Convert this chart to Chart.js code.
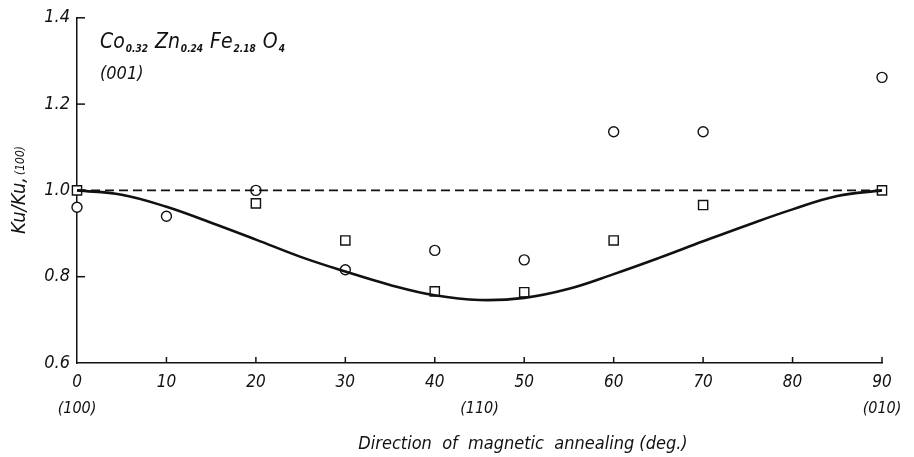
<!DOCTYPE html>
<html>
<head>
<meta charset="utf-8">
<script src="https://cdn.jsdelivr.net/npm/chart.js@4.4.1/dist/chart.umd.min.js"></script>
<style>
  html, body { margin: 0; padding: 0; background: #fff; }
  #wrap { width: 914px; height: 457px; }
</style>
</head>
<body>
<div id="wrap"><canvas id="chart"></canvas></div>
<script>
// Ku/Ku(100) vs direction of magnetic annealing, Co0.32 Zn0.24 Fe2.18 O4 (001)

const yTicks = [0.6, 0.8, 1.0, 1.2, 1.4];
const xTicks = [0, 10, 20, 30, 40, 50, 60, 70, 80, 90];

// measured points (circles)
const circleX = [0, 10, 20, 30, 40, 50, 60, 70, 90];
const circleY = [0.961, 0.94, 1.0, 0.816, 0.861, 0.839, 1.136, 1.136, 1.262];

// measured points (squares)
const squareX = [0, 20, 30, 40, 50, 60, 70, 90];
const squareY = [1.0, 0.97, 0.884, 0.766, 0.764, 0.884, 0.966, 1.0];

// solid curve, every 5 deg
const curveX = [0, 5, 10, 15, 20, 25, 30, 35, 40, 45, 50, 55, 60, 65, 70, 75, 80, 85, 90];
const curveY = [1.0, 0.99, 0.962, 0.925, 0.886, 0.846, 0.812, 0.781, 0.757, 0.746, 0.751, 0.772, 0.806, 0.843, 0.882, 0.92, 0.956, 0.987, 1.0];

// dashed reference line
const refX = [0, 90];
const refY = [1.0, 1.0];

// direction labels under the x axis
const dirValues = [0, 45, 90];
const dirLabels = ['(100)', '(110)', '(010)'];

const FONT = "'DejaVu Sans Condensed', 'DejaVu Sans', sans-serif";

function pts(xs, ys) {
    return xs.map((x, i) => ({ x: x, y: ys[i] }));
}

// inward ticks, formula label, axis titles
const decorPlugin = {
    id: 'decor',
    afterDraw(chart) {
        const ctx = chart.ctx;
        const xs = chart.scales.x;
        const ys = chart.scales.y;
        const area = chart.chartArea;
        ctx.save();
        ctx.strokeStyle = '#111';
        ctx.lineWidth = 1.5;
        // y ticks pointing right
        yTicks.forEach(v => {
            if (v === 0.6) return;
            const py = ys.getPixelForValue(v);
            ctx.beginPath();
            ctx.moveTo(area.left, py);
            ctx.lineTo(area.left + 8, py);
            ctx.stroke();
        });
        // x ticks pointing up
        xTicks.forEach(v => {
            if (v === 0) return;
            const px = xs.getPixelForValue(v);
            ctx.beginPath();
            ctx.moveTo(px, area.bottom);
            ctx.lineTo(px, area.bottom - 6);
            ctx.stroke();
        });

        ctx.fillStyle = '#111';
        // formula
        let x = 100, y = 48;
        const parts = [['Co', '0.32'], ['Zn', '0.24'], ['Fe', '2.18'], ['O', '4']];
        parts.forEach(p => {
            ctx.font = 'italic 21px ' + FONT;
            ctx.textAlign = 'left';
            ctx.textBaseline = 'alphabetic';
            ctx.fillText(p[0], x, y);
            x += ctx.measureText(p[0]).width + 1;
            ctx.font = 'italic bold 10px ' + FONT;
            ctx.fillText(p[1], x, y + 4);
            x += ctx.measureText(p[1]).width + 7;
        });
        ctx.font = 'italic 18px ' + FONT;
        ctx.fillText('(001)', 100, 79);

        // x title
        ctx.font = 'italic 18px ' + FONT;
        ctx.textAlign = 'center';
        ctx.textBaseline = 'middle';
        ctx.fillText('Direction  of  magnetic  annealing (deg.)', 523, 444);

        // y title
        ctx.translate(20, 190);
        ctx.rotate(-Math.PI / 2);
        ctx.textAlign = 'left';
        const main = 'Ku/Ku,';
        ctx.font = 'italic 20px ' + FONT;
        const w1 = ctx.measureText(main).width;
        ctx.font = 'italic 12px ' + FONT;
        const w2 = ctx.measureText('(100)').width;
        const start = -(w1 + w2 + 2) / 2;
        ctx.font = 'italic 20px ' + FONT;
        ctx.fillText(main, start, 0);
        ctx.font = 'italic 12px ' + FONT;
        ctx.fillText('(100)', start + w1 + 2, 1);
        ctx.restore();
    }
};

const ctx = document.getElementById('chart');

new Chart(ctx, {
    type: 'scatter',
    data: {
        datasets: [
            {
                label: 'curve',
                type: 'line',
                data: pts(curveX, curveY),
                borderColor: '#111',
                borderWidth: 2.6,
                pointRadius: 0,
                tension: 0.4,
                fill: false
            },
            {
                label: 'ref',
                type: 'line',
                data: pts(refX, refY),
                borderColor: '#111',
                borderWidth: 1.6,
                borderDash: [9, 5],
                pointRadius: 0,
                fill: false
            },
            {
                label: 'circles',
                data: pts(circleX, circleY),
                pointStyle: 'circle',
                pointRadius: 5,
                borderColor: '#111',
                borderWidth: 1.4,
                backgroundColor: '#fff'
            },
            {
                label: 'squares',
                data: pts(squareX, squareY),
                pointStyle: 'rect',
                pointRadius: 6.5,
                borderColor: '#111',
                borderWidth: 1.4,
                backgroundColor: '#fff'
            }
        ]
    },
    options: {
        responsive: true,
        maintainAspectRatio: false,
        animation: false,
        clip: false,
        layout: { padding: { left: 0, right: 32, top: 13, bottom: 38 } },
        plugins: {
            legend: { display: false },
            tooltip: { enabled: false }
        },
        scales: {
            x: {
                type: 'linear',
                min: 0,
                max: 90,
                afterBuildTicks: s => { s.ticks = xTicks.map(v => ({ value: v })); },
                afterFit: s => { s.height = 28; },
                grid: { display: false, drawTicks: false },
                border: { display: true, color: '#111', width: 1.5 },
                ticks: {
                    color: '#111',
                    padding: 9,
                    maxRotation: 0,
                    font: { family: FONT, size: 17, style: 'italic' }
                }
            },
            x2: {
                type: 'linear',
                position: 'bottom',
                min: 0,
                max: 90,
                afterBuildTicks: s => { s.ticks = dirValues.map(v => ({ value: v })); },
                afterFit: s => { s.height = 28; },
                grid: { display: false, drawTicks: false },
                border: { display: false },
                ticks: {
                    color: '#111',
                    padding: 8,
                    maxRotation: 0,
                    autoSkip: false,
                    font: { family: FONT, size: 16, style: 'italic' },
                    callback: v => dirLabels[dirValues.indexOf(v)]
                }
            },
            y: {
                type: 'linear',
                min: 0.6,
                max: 1.4,
                afterBuildTicks: s => { s.ticks = yTicks.map(v => ({ value: v })); },
                afterFit: s => { s.width = 77; },
                grid: { display: false, drawTicks: false },
                border: { display: true, color: '#111', width: 1.5 },
                ticks: {
                    color: '#111',
                    padding: 7,
                    font: { family: FONT, size: 18, style: 'italic' },
                    callback: v => v.toFixed(1)
                }
            }
        }
    },
    plugins: [decorPlugin]
});
</script>
</body>
</html>
